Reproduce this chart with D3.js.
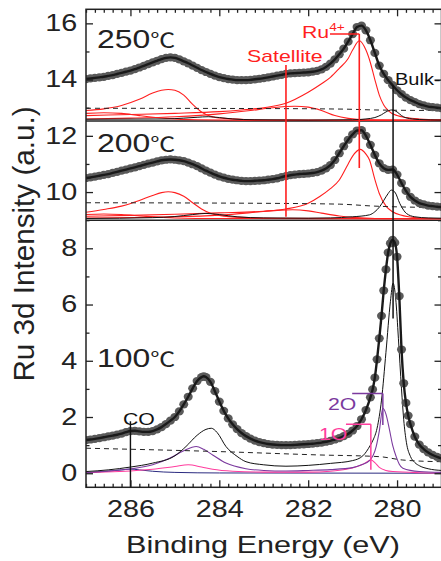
<!DOCTYPE html>
<html>
<head>
<meta charset="utf-8">
<script src="https://cdn.jsdelivr.net/npm/d3@7"></script>
<style>
  body { margin: 0; background: #fff; }
  svg { display: block; }
</style>
</head>
<body>
<svg id="chart" width="441" height="561"></svg>
<script>
// ---- data: [binding energy (eV), intensity] ----
const spec250 = [[287.0,14.02],[286.9,14.04],[286.8,14.06],[286.7,14.08],[286.6,14.10],[286.5,14.13],[286.4,14.16],[286.3,14.20],[286.2,14.24],[286.1,14.28],[286.0,14.32],[285.9,14.37],[285.8,14.43],[285.7,14.49],[285.6,14.55],[285.5,14.61],[285.4,14.67],[285.3,14.73],[285.2,14.77],[285.1,14.79],[285.0,14.77],[284.9,14.72],[284.8,14.65],[284.7,14.58],[284.6,14.50],[284.5,14.42],[284.4,14.34],[284.3,14.27],[284.2,14.20],[284.1,14.14],[284.0,14.09],[283.9,14.05],[283.8,14.02],[283.7,14.00],[283.6,13.98],[283.5,13.98],[283.4,13.98],[283.3,13.99],[283.2,14.01],[283.1,14.03],[283.0,14.05],[282.9,14.08],[282.8,14.11],[282.7,14.14],[282.6,14.17],[282.5,14.20],[282.4,14.22],[282.3,14.23],[282.2,14.24],[282.1,14.25],[282.0,14.26],[281.9,14.28],[281.8,14.31],[281.7,14.36],[281.6,14.45],[281.5,14.57],[281.4,14.72],[281.3,14.90],[281.2,15.10],[281.1,15.35],[281.0,15.62],[280.9,15.87],[280.8,15.92],[280.7,15.75],[280.6,15.40],[280.5,14.95],[280.4,14.50],[280.3,14.20],[280.2,13.98],[280.1,13.80],[280.0,13.62],[279.9,13.48],[279.8,13.36],[279.7,13.27],[279.6,13.20],[279.5,13.13],[279.4,13.08],[279.3,13.04],[279.2,13.02],[279.1,13.00],[279.0,12.98]];

const spec200 = [[287.0,10.50],[286.9,10.52],[286.8,10.55],[286.7,10.58],[286.6,10.61],[286.5,10.64],[286.4,10.68],[286.3,10.72],[286.2,10.76],[286.1,10.80],[286.0,10.84],[285.9,10.88],[285.8,10.92],[285.7,10.97],[285.6,11.01],[285.5,11.05],[285.4,11.09],[285.3,11.13],[285.2,11.15],[285.1,11.16],[285.0,11.15],[284.9,11.13],[284.8,11.10],[284.7,11.05],[284.6,10.99],[284.5,10.92],[284.4,10.84],[284.3,10.76],[284.2,10.69],[284.1,10.62],[284.0,10.56],[283.9,10.51],[283.8,10.47],[283.7,10.44],[283.6,10.42],[283.5,10.40],[283.4,10.39],[283.3,10.39],[283.2,10.40],[283.1,10.41],[283.0,10.42],[282.9,10.44],[282.8,10.46],[282.7,10.49],[282.6,10.53],[282.5,10.57],[282.4,10.60],[282.3,10.62],[282.2,10.64],[282.1,10.65],[282.0,10.66],[281.9,10.68],[281.8,10.71],[281.7,10.76],[281.6,10.84],[281.5,10.96],[281.4,11.14],[281.3,11.38],[281.2,11.63],[281.1,11.86],[281.0,12.05],[280.9,12.19],[280.8,12.20],[280.7,12.00],[280.6,11.68],[280.5,11.32],[280.4,11.02],[280.3,10.85],[280.2,10.79],[280.1,10.80],[280.0,10.62],[279.9,10.32],[279.8,10.04],[279.7,9.83],[279.6,9.70],[279.5,9.61],[279.4,9.56],[279.3,9.52],[279.2,9.50],[279.1,9.48],[279.0,9.47]];

const spec100 = [[287.0,1.18],[286.9,1.20],[286.8,1.22],[286.7,1.25],[286.6,1.28],[286.5,1.31],[286.4,1.34],[286.3,1.37],[286.2,1.41],[286.1,1.46],[286.0,1.50],[285.9,1.51],[285.8,1.49],[285.7,1.47],[285.6,1.47],[285.5,1.50],[285.4,1.56],[285.3,1.64],[285.2,1.75],[285.1,1.87],[285.0,2.00],[284.9,2.20],[284.8,2.45],[284.7,2.72],[284.6,3.02],[284.5,3.28],[284.4,3.42],[284.35,3.45],[284.3,3.42],[284.2,3.25],[284.1,2.92],[284.0,2.55],[283.9,2.22],[283.8,1.95],[283.7,1.74],[283.6,1.57],[283.5,1.43],[283.4,1.32],[283.3,1.23],[283.2,1.16],[283.1,1.11],[283.0,1.07],[282.9,1.04],[282.8,1.02],[282.7,1.01],[282.6,1.00],[282.5,1.00],[282.4,1.00],[282.3,1.01],[282.2,1.02],[282.1,1.03],[282.0,1.04],[281.9,1.05],[281.8,1.07],[281.7,1.09],[281.6,1.12],[281.5,1.15],[281.4,1.20],[281.3,1.25],[281.2,1.32],[281.1,1.40],[281.0,1.52],[280.9,1.68],[280.8,1.92],[280.7,2.25],[280.6,2.70],[280.55,2.98],[280.5,3.40],[280.45,4.05],[280.4,4.80],[280.35,5.60],[280.3,6.50],[280.25,7.25],[280.2,7.85],[280.15,8.18],[280.1,8.30],[280.05,8.20],[280.0,7.70],[279.95,6.30],[279.9,4.40],[279.85,3.20],[279.8,2.50],[279.75,2.05],[279.7,1.75],[279.6,1.30],[279.5,1.02],[279.4,0.86],[279.3,0.74],[279.2,0.65],[279.1,0.58],[279.0,0.53]];

// fitted components, 250 C
const bg250 = [[287,12.98],[283,12.97],[281.2,12.95],[280.5,12.92],[279,12.90]];
const ru4a250 = [[287,12.90],[286.6,12.96],[286.2,13.08],[285.8,13.30],[285.5,13.52],[285.3,13.62],[285.15,13.65],[285.0,13.62],[284.8,13.45],[284.6,13.12],[284.4,12.85],[284.2,12.70],[283.9,12.62],[283.4,12.58],[282.5,12.56],[279,12.55]];
const ru4b250 = [[287,12.72],[286,12.76],[285,12.80],[284,12.86],[283.5,12.92],[283,13.00],[282.5,13.16],[282,13.55],[281.7,13.85],[281.5,14.08],[281.3,14.40],[281.1,14.75],[281.0,15.05],[280.85,15.38],[280.7,15.05],[280.6,14.60],[280.5,14.00],[280.4,13.45],[280.3,13.10],[280.2,12.90],[280.0,12.72],[279.8,12.65],[279.5,12.60],[279,12.57]];
const sat250 = [[287,12.60],[286,12.63],[285,12.68],[284,12.78],[283.3,12.90],[282.8,13.00],[282.3,13.05],[282.0,13.02],[281.7,12.90],[281.4,12.72],[281.1,12.62],[280.7,12.57],[279,12.55]];
const sat2_250 = [[287,12.80],[286.6,12.82],[286.2,12.80],[285.8,12.72],[285.2,12.62],[284.5,12.57],[283,12.55],[279,12.55]];
const bulk250 = [[287,12.59],[285.2,12.60],[284.8,12.63],[284.5,12.66],[284.25,12.68],[284.0,12.65],[283.7,12.60],[283.2,12.57],[282,12.56],[281,12.57],[280.7,12.60],[280.5,12.65],[280.35,12.75],[280.25,12.85],[280.12,12.92],[280.0,12.85],[279.9,12.72],[279.8,12.64],[279.5,12.58],[279,12.56]];

// fitted components, 200 C
const bg200 = [[287,9.62],[283,9.60],[281.3,9.57],[280.5,9.50],[279,9.45]];
const ru4a200 = [[287,9.28],[286.6,9.38],[286.2,9.50],[285.8,9.70],[285.5,9.88],[285.3,9.98],[285.15,10.01],[285.0,9.98],[284.8,9.85],[284.6,9.62],[284.4,9.40],[284.2,9.25],[284.0,9.17],[283.5,9.10],[282.5,9.07],[279,9.05]];
const ru4b200 = [[287,9.14],[286,9.17],[285,9.21],[284,9.26],[283,9.32],[282.5,9.40],[282,9.60],[281.74,9.84],[281.5,10.12],[281.3,10.43],[281.1,11.00],[281.0,11.28],[280.83,11.52],[280.7,11.35],[280.62,11.14],[280.5,10.45],[280.4,9.95],[280.24,9.48],[280.1,9.30],[279.94,9.19],[279.5,9.08],[279,9.06]];
const sat200 = [[287,9.08],[285,9.12],[284,9.18],[283.2,9.28],[282.7,9.35],[282.35,9.37],[282.0,9.33],[281.7,9.25],[281.3,9.15],[281,9.10],[280.5,9.06],[279,9.05]];
const sat2_200 = [[287,9.20],[286.6,9.22],[286.2,9.20],[285.7,9.14],[285,9.08],[284,9.06],[279,9.05]];
const bulk200 = [[287,9.06],[285.5,9.09],[285,9.13],[284.6,9.20],[284.3,9.24],[284.0,9.20],[283.6,9.12],[283,9.08],[282,9.07],[281.5,9.08],[281,9.12],[280.62,9.19],[280.5,9.30],[280.39,9.48],[280.3,9.70],[280.2,9.95],[280.13,10.07],[280.05,10.00],[279.94,9.60],[279.85,9.35],[279.79,9.24],[279.6,9.12],[279.3,9.08],[279,9.07]];

// fitted components, 100 C
const bg100 = [[287,0.89],[284,0.77],[281.74,0.65],[280.4,0.59],[279.87,0.47],[279,0.41]];
const bulk100 = [[287,0.06],[286.5,0.12],[286,0.22],[285.5,0.36],[285,0.62],[284.75,0.95],[284.5,1.35],[284.3,1.56],[284.18,1.60],[284.05,1.45],[283.85,0.95],[283.6,0.60],[283.4,0.41],[283,0.30],[282.5,0.25],[282,0.28],[281.5,0.35],[281,0.45],[280.77,0.62],[280.6,1.00],[280.54,1.18],[280.45,1.60],[280.35,2.60],[280.25,4.30],[280.15,6.10],[280.09,6.76],[280.03,6.20],[279.97,4.80],[279.9,3.00],[279.85,1.90],[279.79,1.10],[279.7,0.60],[279.6,0.38],[279.49,0.26],[279.3,0.16],[279,0.10]];
const twoO100 = [[287,0.02],[286.5,0.08],[286,0.15],[285.5,0.30],[285.12,0.53],[284.8,0.80],[284.52,0.95],[284.35,0.85],[284.15,0.65],[283.85,0.36],[283.4,0.16],[283,0.10],[282.5,0.08],[282,0.10],[281.5,0.13],[281,0.20],[280.8,0.30],[280.62,0.45],[280.47,0.95],[280.4,1.50],[280.32,2.31],[280.25,2.10],[280.17,1.54],[280.1,1.00],[280.02,0.59],[279.95,0.32],[279.87,0.18],[279.5,0.06],[279,0.03]];
const oneO100 = [[287,0.02],[286.25,0.06],[285.5,0.14],[285.0,0.24],[284.7,0.30],[284.4,0.22],[284.15,0.14],[283.7,0.07],[283,0.04],[282,0.04],[281.5,0.07],[281.14,0.14],[280.9,0.24],[280.77,0.32],[280.58,0.47],[280.5,0.38],[280.4,0.21],[280.25,0.10],[280.09,0.06],[279.5,0.02],[279,0.01]];
const co100 = [[287,0.02],[286.5,0.07],[286.2,0.12],[286.0,0.15],[285.8,0.12],[285.5,0.07],[285,0.03],[284,0.01],[279,0.00]];

// annotation energies / levels
const ru4E = 280.85, satE = 282.5, bulkE = 280.09, coE = 286.0, twoOE = 280.32, oneOE = 280.59;
const panelBreaks = [12.53, 9.0];
const xMajor = [286, 284, 282, 280];
const yMajor = [0, 2, 4, 6, 8, 10, 12, 14, 16];
const yMinor = [1, 3, 5, 7, 9, 11, 13, 15];

const svg = d3.select("#chart");
const mLeft = 86, mRight = 441.5, mTop = 9.3, mBottom = 487.3;
const x = d3.scaleLinear().domain([287, 279]).range([mLeft, mRight]);
const y = d3.scaleLinear().domain([-0.5, 16.5]).range([mBottom, mTop]);
const font = "Liberation Sans, Arial, Helvetica, sans-serif";
const RED = "#ff1f1f", PURPLE = "#7b3a9e", PINK = "#ff3d9e";

svg.append("defs").append("clipPath").attr("id", "clip")
  .append("rect").attr("x", mLeft).attr("y", mTop).attr("width", mRight - mLeft).attr("height", mBottom - mTop);

const plot = svg.append("g").attr("clip-path", "url(#clip)");
const line = d3.line().x(d => x(d[0])).y(d => y(d[1])).curve(d3.curveMonotoneX);

function curve(data, color, width, dash) {
  plot.append("path").datum(data)
    .attr("d", line)
    .attr("fill", "none")
    .attr("stroke", color)
    .attr("stroke-width", width)
    .attr("stroke-dasharray", dash || null);
}

// panel separators
panelBreaks.forEach(v => {
  plot.append("line").attr("x1", mLeft).attr("x2", mRight)
    .attr("y1", y(v)).attr("y2", y(v))
    .attr("stroke", "#222").attr("stroke-width", 1.4);
});

// components
[ru4a250, ru4b250, sat250, sat2_250].forEach(c => curve(c, RED, 1.1));
curve(bulk250, "#111", 1);
[ru4a200, ru4b200, sat200, sat2_200].forEach(c => curve(c, RED, 1.1));
curve(bulk200, "#111", 1);
curve(co100, "#2b2b80", 1);
curve(oneO100, PINK, 1.1);
curve(twoO100, PURPLE, 1.1);
curve(bulk100, "#111", 1);
[bg250, bg200, bg100].forEach(c => curve(c, "#222", 1, "5,4"));

// measured points and fit envelope
[spec250, spec200, spec100].forEach(s => {
  plot.append("g").selectAll("ellipse").data(s).join("ellipse")
    .attr("cx", d => x(d[0])).attr("cy", d => y(d[1]))
    .attr("rx", 4.5).attr("ry", 4.1).attr("fill", "#5a5a5a");
  curve(s, "#1a1a1a", 2.4);
});

// annotation lines
function vline(e, v0, v1, color, w) {
  plot.append("line").attr("x1", x(e)).attr("x2", x(e))
    .attr("y1", y(v0)).attr("y2", y(v1))
    .attr("stroke", color).attr("stroke-width", w);
}
function hline(e0, e1, v, color, w) {
  plot.append("line").attr("x1", x(e0)).attr("x2", x(e1))
    .attr("y1", y(v)).attr("y2", y(v))
    .attr("stroke", color).attr("stroke-width", w);
}
vline(ru4E, 15.62, 10.86, RED, 1.6);
hline(281.51, ru4E, 15.62, RED, 1.6);
vline(satE, 14.52, 9.12, RED, 1.6);
vline(bulkE, 13.8, 5.5, "#111", 1.5);
vline(coE, 1.85, -0.5, "#111", 1.4);
vline(twoOE, 2.84, 1.72, PURPLE, 1.5);
hline(281.01, twoOE, 2.84, PURPLE, 1.5);
vline(oneOE, 1.74, 0.12, PINK, 1.5);
hline(281.15, oneOE, 1.74, PINK, 1.5);

// frame
svg.append("rect").attr("x", mLeft).attr("y", mTop)
  .attr("width", mRight - mLeft).attr("height", mBottom - mTop)
  .attr("fill", "none").attr("stroke", "#222").attr("stroke-width", 1.5);

// axes with inward ticks
const xMinor = d3.range(287, 278.99, -0.2).map(v => +v.toFixed(1)).filter(v => !xMajor.includes(v));
function styleAxis(g) {
  g.select(".domain").remove();
  g.selectAll("line").attr("stroke", "#222").attr("stroke-width", 1.3);
}
svg.append("g").attr("transform", `translate(0,${mBottom})`)
  .call(d3.axisBottom(x).tickValues(xMinor).tickSize(-3.5).tickFormat(""))
  .call(styleAxis);
svg.append("g").attr("transform", `translate(0,${mTop})`)
  .call(d3.axisTop(x).tickValues(xMinor).tickSize(-3.5).tickFormat(""))
  .call(styleAxis);
svg.append("g").attr("transform", `translate(0,${mTop})`)
  .call(d3.axisTop(x).tickValues(xMajor).tickSize(-7).tickFormat(""))
  .call(styleAxis);
const xAx = svg.append("g").attr("transform", `translate(0,${mBottom})`)
  .call(d3.axisBottom(x).tickValues(xMajor).tickSize(-7).tickPadding(13).tickFormat(d3.format("d")))
  .call(styleAxis);
xAx.selectAll("text").attr("font-family", font).attr("font-size", 23).attr("fill", "#222")
  .attr("transform", "scale(1.25,1)");

const yAx = svg.append("g").attr("transform", `translate(${mLeft},0)`)
  .call(d3.axisLeft(y).tickValues(yMajor).tickSize(-7).tickPadding(7).tickFormat(d3.format("d")))
  .call(styleAxis);
yAx.selectAll("text").attr("font-family", font).attr("font-size", 23).attr("fill", "#222")
  .attr("transform", "scale(1.25,1)");
svg.append("g").attr("transform", `translate(${mLeft},0)`)
  .call(d3.axisLeft(y).tickValues(yMinor).tickSize(-3.5).tickFormat(""))
  .call(styleAxis);
svg.append("g").attr("transform", `translate(${mRight},0)`)
  .call(d3.axisRight(y).tickValues(yMajor).tickSize(-7).tickFormat(""))
  .call(styleAxis);
svg.append("g").attr("transform", `translate(${mRight},0)`)
  .call(d3.axisRight(y).tickValues(yMinor).tickSize(-3.5).tickFormat(""))
  .call(styleAxis);

// text labels (the picture is stretched sideways, so text is too)
function label(px, py, str, size, color, anchor) {
  return svg.append("text")
    .attr("transform", `translate(${px},${py}) scale(1.25,1)`)
    .attr("font-family", font).attr("font-size", size)
    .attr("fill", color).attr("text-anchor", anchor || "start")
    .text(str);
}
[["250", 48], ["200", 152], ["100", 367]].forEach(([t, py]) => {
  const el = label(97, py, t, 25.5, "#222");
  el.append("tspan").attr("font-family", "Noto Sans CJK SC").attr("font-size", 20).text("℃");
});
label(247, 62, "Satellite", 17, RED);
const ru = label(302, 38, "Ru", 17, RED);
ru.append("tspan").attr("font-size", 11).attr("dy", -7).text("4+");
label(395, 85, "Bulk-", 16, "#111");
label(123, 425, "CO", 17, "#111");
label(328, 410, "2O", 17, PURPLE);
label(319, 440, "1O", 17, PINK);

label(263, 553, "Binding Energy (eV)", 24.5, "#222", "middle");
svg.append("text")
  .attr("transform", "translate(34,244) rotate(-90) scale(1.14,1.15)")
  .attr("font-family", font).attr("font-size", 26).attr("fill", "#222")
  .attr("text-anchor", "middle")
  .text("Ru 3d Intensity (a.u.)");
</script>
</body>
</html>
